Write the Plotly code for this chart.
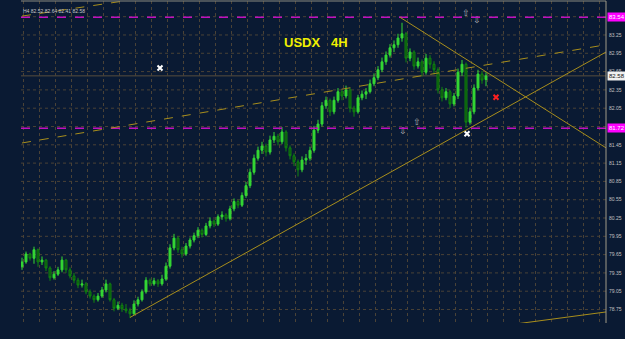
import plotly.graph_objects as go

# ---------------- data ----------------
bar_index = list(range(117))
opens = [79.45, 79.53, 79.66, 79.59, 79.73, 79.53, 79.56, 79.43, 79.27, 79.33,
         79.40, 79.56, 79.40, 79.30, 79.23, 79.15, 79.17, 79.04, 78.97, 78.91,
         78.97, 79.07, 79.17, 78.91, 78.77, 78.82, 78.76, 78.73, 78.68, 78.84,
         78.91, 79.04, 79.23, 79.17, 79.22, 79.17, 79.25, 79.46, 79.76, 79.92,
         79.73, 79.66, 79.79, 79.89, 79.96, 80.05, 79.98, 80.12, 80.20, 80.15,
         80.27, 80.30, 80.24, 80.40, 80.52, 80.46, 80.62, 80.78, 81.00, 81.23,
         81.36, 81.43, 81.33, 81.53, 81.59, 81.50, 81.66, 81.40, 81.27, 81.17,
         81.04, 81.20, 81.23, 81.36, 81.69, 81.79, 82.09, 82.18, 81.99, 82.18,
         82.32, 82.25, 82.35, 82.05, 81.99, 82.22, 82.28, 82.32, 82.45, 82.55,
         82.68, 82.81, 82.92, 83.04, 83.09, 83.20, 83.27, 82.87, 82.97, 82.74,
         82.81, 82.64, 82.87, 82.77, 82.68, 82.35, 82.22, 82.32, 82.12, 82.25,
         82.64, 82.77, 81.82, 81.99, 82.38, 82.61, 82.52]
highs = [79.60, 79.70, 79.68, 79.78, 79.75, 79.62, 79.58, 79.46, 79.38, 79.45,
         79.62, 79.58, 79.44, 79.35, 79.27, 79.24, 79.20, 79.08, 79.00, 79.02,
         79.12, 79.24, 79.19, 78.94, 78.88, 78.86, 78.84, 78.78, 78.90, 78.96,
         79.08, 79.28, 79.26, 79.27, 79.25, 79.32, 79.52, 79.82, 79.99, 79.95,
         79.78, 79.84, 79.93, 80.01, 80.10, 80.08, 80.17, 80.26, 80.23, 80.31,
         80.36, 80.33, 80.45, 80.57, 80.55, 80.67, 80.84, 81.06, 81.29, 81.42,
         81.50, 81.47, 81.60, 81.66, 81.63, 81.74, 81.69, 81.44, 81.31, 81.21,
         81.26, 81.30, 81.42, 81.76, 81.86, 82.15, 82.24, 82.21, 82.24, 82.38,
         82.35, 82.42, 82.38, 82.09, 82.27, 82.34, 82.38, 82.52, 82.62, 82.74,
         82.88, 82.98, 83.10, 83.16, 83.27, 83.45, 83.30, 83.03, 83.00, 82.88,
         82.85, 82.94, 82.92, 82.82, 82.72, 82.40, 82.38, 82.35, 82.30, 82.70,
         82.84, 82.80, 82.06, 82.44, 82.68, 82.66, 82.64]
lows = [79.40, 79.50, 79.55, 79.50, 79.45, 79.48, 79.38, 79.22, 79.24, 79.30,
        79.36, 79.35, 79.26, 79.18, 79.10, 79.11, 79.00, 78.93, 78.86, 78.88,
        78.94, 79.03, 78.88, 78.72, 78.74, 78.71, 78.69, 78.61, 78.66, 78.80,
        78.88, 79.01, 79.13, 79.14, 79.12, 79.14, 79.22, 79.42, 79.72, 79.68,
        79.60, 79.63, 79.75, 79.85, 79.92, 79.93, 79.95, 80.08, 80.10, 80.12,
        80.22, 80.19, 80.21, 80.36, 80.41, 80.43, 80.58, 80.74, 80.96, 81.19,
        81.30, 81.26, 81.29, 81.48, 81.44, 81.46, 81.34, 81.21, 81.10, 80.93,
        81.00, 81.12, 81.19, 81.32, 81.64, 81.75, 82.04, 81.92, 81.95, 82.14,
        82.18, 82.21, 81.98, 81.91, 81.96, 82.18, 82.20, 82.29, 82.41, 82.51,
        82.64, 82.76, 82.88, 82.97, 83.04, 83.14, 82.80, 82.82, 82.68, 82.70,
        82.57, 82.60, 82.70, 82.60, 82.29, 82.16, 82.18, 82.05, 82.08, 82.20,
        82.58, 81.73, 81.78, 81.95, 82.34, 82.45, 82.41]
closes = [79.53, 79.66, 79.59, 79.73, 79.53, 79.56, 79.43, 79.27, 79.33, 79.40,
          79.56, 79.40, 79.30, 79.23, 79.15, 79.17, 79.04, 78.97, 78.91, 78.97,
          79.07, 79.17, 78.91, 78.77, 78.82, 78.76, 78.73, 78.68, 78.84, 78.91,
          79.04, 79.23, 79.17, 79.22, 79.17, 79.25, 79.46, 79.76, 79.92, 79.73,
          79.66, 79.79, 79.89, 79.96, 80.05, 79.98, 80.12, 80.20, 80.15, 80.27,
          80.30, 80.24, 80.40, 80.52, 80.46, 80.62, 80.78, 81.00, 81.23, 81.36,
          81.43, 81.33, 81.53, 81.59, 81.50, 81.66, 81.40, 81.27, 81.17, 81.04,
          81.20, 81.23, 81.36, 81.69, 81.79, 82.09, 82.18, 81.99, 82.18, 82.32,
          82.25, 82.35, 82.05, 81.99, 82.22, 82.28, 82.32, 82.45, 82.55, 82.68,
          82.81, 82.92, 83.04, 83.09, 83.20, 83.27, 82.87, 82.97, 82.74, 82.81,
          82.64, 82.87, 82.77, 82.68, 82.35, 82.22, 82.32, 82.12, 82.25, 82.64,
          82.77, 81.82, 81.99, 82.38, 82.61, 82.51, 82.58]

header_text = "H4 82.52 82.64 82.41 82.58"
chart_title = "USDX\u00a0\u00a0\u00a04H"

# price scale labels (those hidden behind the level boxes are left out)
tick_values = [78.75, 79.05, 79.35, 79.65, 79.95, 80.25, 80.55, 80.85, 81.15,
               81.45, 82.05, 82.35, 82.65, 82.95, 83.25]
grid_values = [78.75, 79.05, 79.35, 79.65, 79.95, 80.25, 80.55, 80.85, 81.15,
               81.45, 81.75, 82.05, 82.35, 82.65, 82.95, 83.25, 83.55]

# horizontal levels
magenta_levels = [83.54, 81.72]
last_price = 82.58

# trend lines: (x0, y0, x1, y1) in bar index / price
solid_lines = [(27.0, 78.62, 146.0, 82.97),
               (94.5, 83.54, 146.0, 81.40),
               (118.5, 78.47, 146.0, 78.71)]
dashed_lines = [(0.0, 81.48, 146.0, 83.09),
                (0.0, 83.56, 25.75, 83.81)]

# markers
white_x = [34.5, 111.25]
white_y = [82.71, 81.63]
red_x = [118.5]
red_y = [82.23]
up_arrow_x = [111.0, 98.75]
up_arrow_y = [83.59, 81.81]
down_arrow_x = [113.75, 95.25]
down_arrow_y = [83.48, 81.66]

# ---------------- figure ----------------
BG = "#0a1a33"
GOLD = "#a88e1c"
GRID = "#4a4236"

fig = go.Figure()
fig.add_trace(go.Candlestick(
    x=bar_index, open=opens, high=highs, low=lows, close=closes,
    increasing=dict(line=dict(color="#34d834", width=1), fillcolor="#34d834"),
    decreasing=dict(line=dict(color="#108410", width=1), fillcolor="#0a4d0a"),
    whiskerwidth=0, showlegend=False, hoverinfo="skip"))

fig.add_trace(go.Scatter(x=white_x, y=white_y, mode="markers",
                         marker=dict(symbol="x-thin", size=5, line=dict(color="white", width=2)),
                         showlegend=False, hoverinfo="skip"))
fig.add_trace(go.Scatter(x=red_x, y=red_y, mode="markers",
                         marker=dict(symbol="x-thin", size=5, line=dict(color="#ff2020", width=2)),
                         showlegend=False, hoverinfo="skip"))
fig.add_trace(go.Scatter(x=up_arrow_x, y=up_arrow_y, mode="text", text=["⇧"] * len(up_arrow_x),
                         textfont=dict(color="#b0b0b0", size=9, family="DejaVu Sans"),
                         showlegend=False, hoverinfo="skip"))
fig.add_trace(go.Scatter(x=down_arrow_x, y=down_arrow_y, mode="text", text=["⇩"] * len(down_arrow_x),
                         textfont=dict(color="#b0b0b0", size=9, family="DejaVu Sans"),
                         showlegend=False, hoverinfo="skip"))

# horizontal dotted grid
for gv in grid_values:
    fig.add_shape(type="line", xref="paper", x0=0, x1=1, yref="y", y0=gv, y1=gv,
                  line=dict(color=GRID, width=1, dash="dot"), layer="below")

# horizontal lines
for lv in magenta_levels:
    fig.add_shape(type="line", xref="paper", x0=0, x1=1, yref="y", y0=lv, y1=lv,
                  line=dict(color="#c010c0", width=1.5, dash="dash"), layer="above")
fig.add_shape(type="line", xref="paper", x0=0, x1=1, yref="y", y0=last_price, y1=last_price,
              line=dict(color="#584e3e", width=1), layer="below")

for (a, b, c, d) in solid_lines:
    fig.add_shape(type="line", x0=a, y0=b, x1=c, y1=d, xref="x", yref="y",
                  line=dict(color=GOLD, width=1), layer="above")
for (a, b, c, d) in dashed_lines:
    fig.add_shape(type="line", x0=a, y0=b, x1=c, y1=d, xref="x", yref="y",
                  line=dict(color=GOLD, width=1, dash="dash"), layer="above")

# borders (top and right)
fig.add_shape(type="line", xref="paper", yref="paper", x0=0, x1=1, y0=1, y1=1,
              line=dict(color="#8a8a80", width=1))
fig.add_shape(type="line", xref="paper", yref="paper", x0=1, x1=1, y0=0, y1=1,
              line=dict(color="#a09a88", width=1))

# right-side price boxes
for lv in magenta_levels:
    fig.add_annotation(xref="paper", x=1.0, xanchor="left", yref="y", y=lv,
                       text=f"{lv:.2f}", showarrow=False, bgcolor="#ff00ff",
                       font=dict(color="white", size=6, family="Liberation Sans"),
                       borderpad=1, xshift=1)
fig.add_annotation(xref="paper", x=1.0, xanchor="left", yref="y", y=last_price,
                   text=f"{last_price:.2f}", showarrow=False, bgcolor="#f0f0f0",
                   font=dict(color="#101010", size=6, family="Liberation Sans"),
                   borderpad=1, xshift=1)

# header and title
fig.add_annotation(xref="paper", yref="paper", x=0.0, y=0.985, xanchor="left", yanchor="top",
                   text=header_text, showarrow=False,
                   font=dict(color="#c8c8c8", size=5, family="Liberation Sans"))
fig.add_annotation(xref="x", yref="y", x=73.5, y=83.12, text=f"<b>{chart_title}</b>",
                   showarrow=False, font=dict(color="#f0f000", size=13, family="Liberation Sans"))

fig.update_layout(
    width=625, height=339,
    margin=dict(l=21, r=19, t=1, b=16),
    paper_bgcolor=BG, plot_bgcolor=BG,
    showlegend=False,
    xaxis=dict(range=[-0.25, 146.0], rangeslider=dict(visible=False),
               showgrid=True, gridcolor=GRID, griddash="dot", gridwidth=1,
               tick0=0.25, dtick=4, showticklabels=False, zeroline=False, showline=False,
               ticks=""),
    yaxis=dict(range=[78.529, 83.807], side="right",
               showgrid=False, tickmode="array", tickvals=tick_values,
               ticktext=[f"{v:.2f}" for v in tick_values],
               zeroline=False, showline=False,
               tickfont=dict(color="#c0c0c0", size=5, family="Liberation Sans"),
               ticks="", ticklabelstandoff=2),
)

fig.write_html("out.html")
